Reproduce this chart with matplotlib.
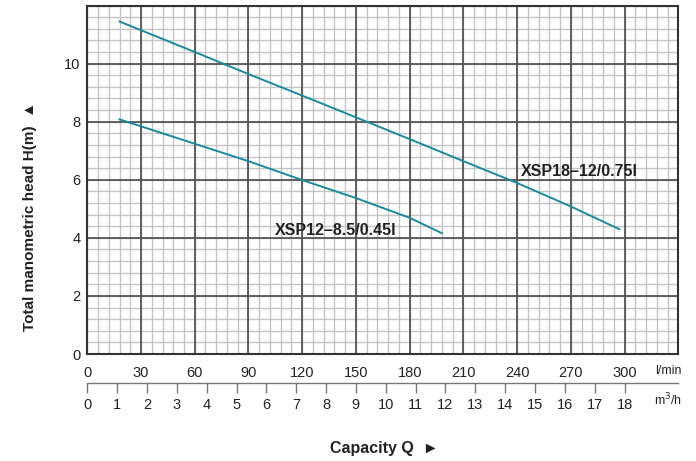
import numpy as np
import matplotlib.pyplot as plt
from matplotlib.ticker import MultipleLocator

plt.rcParams['font.family'] = ['Liberation Sans', 'DejaVu Sans']

# pump curves (flow in l/min, head in m)
q_xsp18 = [18, 60, 90, 124, 150, 180, 210, 240, 270, 297]
h_xsp18 = [11.45, 10.4, 9.64, 8.8, 8.15, 7.4, 6.64, 5.89, 5.08, 4.3]
q_xsp12 = [18, 60, 90, 120, 150, 180, 198]
h_xsp12 = [8.08, 7.24, 6.64, 5.99, 5.37, 4.69, 4.16]

lpm_ticks = list(range(0, 301, 30))
m3h_ticks = list(range(0, 19))
h_ticks = [0, 2, 4, 6, 8, 10]

curve_color = '#1b8a9c'
text_color = '#222222'
pos = [0.1254, 0.2321, 0.8492, 0.7559]

fig = plt.figure(figsize=(6.96, 4.61), dpi=100)

# background axes: fine (minor) grid only, so the heavy lines sit on top of it
bg = fig.add_axes(pos, zorder=0)
bg.set_xlim(0, 330)
bg.set_ylim(0, 12)
bg.xaxis.set_major_locator(MultipleLocator(6))
bg.yaxis.set_major_locator(MultipleLocator(0.4))
bg.grid(color='#c4c4c4', linewidth=1.0)
bg.tick_params(length=0, labelbottom=False, labelleft=False)
for s in bg.spines.values():
    s.set_visible(False)

ax = fig.add_axes(pos, zorder=1)
ax.patch.set_alpha(0)
ax.set_xlim(0, 330)
ax.set_ylim(0, 12)
ax.xaxis.set_major_locator(MultipleLocator(30))
ax.yaxis.set_major_locator(MultipleLocator(2))
ax.grid(color='#555555', linewidth=1.3)
ax.set_axisbelow(True)
for s in ax.spines.values():
    s.set_color('#333333')
    s.set_linewidth(1.5)

ax.set_xticks(lpm_ticks)
ax.set_yticks(h_ticks)
ax.tick_params(which='both', length=0)
ax.tick_params(axis='x', pad=8.5, labelsize=10.5, labelcolor=text_color)
ax.tick_params(axis='y', pad=5, labelsize=10.5, labelcolor=text_color)

ax.plot(q_xsp18, h_xsp18, color=curve_color, linewidth=1.4)
ax.plot(q_xsp12, h_xsp12, color=curve_color, linewidth=1.4)

ax.text(242, 6.3, 'XSP18\u201312/0.75l', fontsize=11.5, fontweight='bold',
        color=text_color, va='center', ha='left')
ax.text(105, 4.27, 'XSP12\u20138.5/0.45l', fontsize=11.5, fontweight='bold',
        color=text_color, va='center', ha='left')

# second capacity scale in m3/h
sec = ax.secondary_xaxis(-0.083, functions=(lambda q: q * 0.06, lambda m: m / 0.06))
sec.set_xticks(m3h_ticks)
sec.spines['bottom'].set_color('#777777')
sec.spines['bottom'].set_linewidth(1.0)
sec.tick_params(length=7, width=1.0, color='#777777', pad=4,
                labelsize=10.5, labelcolor=text_color)

fig.text(668 / 696, 1 - 371 / 461, 'l/min', fontsize=9, color=text_color,
         ha='center', va='center')
fig.text(668 / 696, 1 - 400 / 461, 'm$^3$/h', fontsize=9, color=text_color,
         ha='center', va='center')

fig.text(30 / 696, 1 - 216 / 461, 'Total manometric head H(m)  \u25b2',
         rotation=90, fontsize=11, fontweight='bold', color=text_color,
         ha='center', va='center')
fig.text(384 / 696, 1 - 448 / 461, 'Capacity Q  \u25ba', fontsize=11.5,
         fontweight='bold', color=text_color, ha='center', va='center')

fig.savefig('out.png', dpi=100)
